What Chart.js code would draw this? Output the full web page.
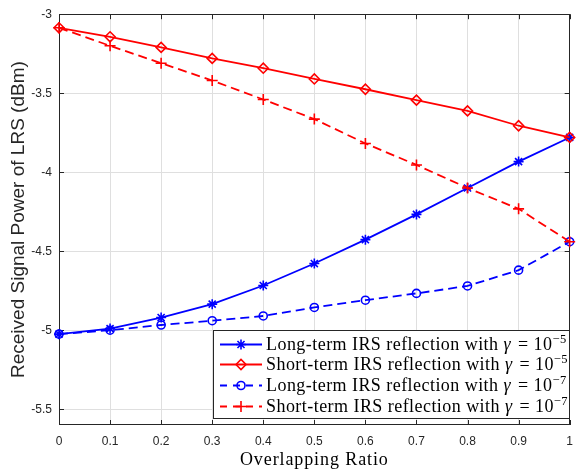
<!DOCTYPE html>
<html>
<head>
<meta charset="utf-8">
<script src="https://cdn.jsdelivr.net/npm/chart.js"></script>
<style>
  body { margin: 0; background: #fff; }
  #wrap { width: 582px; height: 470px; }
</style>
</head>
<body>
<div id="wrap"><canvas id="lrsChart" width="582" height="470"></canvas></div>
<script>
// values
var overlapRatio = [0, 0.1, 0.2, 0.3, 0.4, 0.5, 0.6, 0.7, 0.8, 0.9, 1];
var longTermG5 = [-5.025, -4.99, -4.92, -4.835, -4.717, -4.578, -4.427, -4.267, -4.10, -3.933, -3.78];
var shortTermG5 = [-3.086, -3.143, -3.21, -3.28, -3.342, -3.41, -3.475, -3.544, -3.612, -3.706, -3.78];
var longTermG7 = [-5.025, -5.0, -4.967, -4.94, -4.91, -4.856, -4.81, -4.767, -4.72, -4.62, -4.44];
var shortTermG7 = [-3.086, -3.20, -3.31, -3.42, -3.54, -3.664, -3.818, -3.954, -4.10, -4.232, -4.44];

var xTicks = [0, 0.1, 0.2, 0.3, 0.4, 0.5, 0.6, 0.7, 0.8, 0.9, 1];
var yTicks = [-5.5, -5, -4.5, -4, -3.5, -3];
var legendText = ['Long-term IRS reflection with', 'Short-term IRS reflection with',
                  'Long-term IRS reflection with', 'Short-term IRS reflection with'];
var gammaExp = ['\u22125', '\u22125', '\u22127', '\u22127'];
var xTitle = 'Overlapping Ratio';

var axisColor = '#262626';
var gridColor = '#dfdfdf';
var serif = '"Liberation Serif", "DejaVu Serif", serif';
var sans = '"Liberation Sans", Arial, sans-serif';

function pairs(ys) {
    return ys.map(function(v, i) { return {x: overlapRatio[i], y: v}; });
}

function makeSet(label, ys, color, dashed, style, radius, order) {
    return {
        label: label,
        data: pairs(ys),
        borderColor: color,
        backgroundColor: 'rgba(0,0,0,0)',
        borderWidth: 1.8,
        borderDash: dashed ? [9, 5] : [],
        pointStyle: style,
        pointRadius: radius,
        pointBorderWidth: 1.6,
        pointBorderColor: color,
        pointBackgroundColor: 'rgba(0,0,0,0)',
        fill: false,
        tension: 0,
        clip: false,
        order: order
    };
}

var datasets = [
    makeSet(legendText[0], longTermG5, '#0000ff', false, 'star', 5, 4),
    makeSet(legendText[1], shortTermG5, '#ff0000', false, 'rectRot', 5, 3),
    makeSet(legendText[2], longTermG7, '#0000ff', true, 'circle', 4, 2),
    makeSet(legendText[3], shortTermG7, '#ff0000', true, 'cross', 5.5, 1)
];

var boxPlugin = {
    id: 'matlabBox',
    beforeDatasetsDraw: function(chart) {
        var ctx = chart.ctx, a = chart.chartArea;
        var xs = chart.scales.x, ys = chart.scales.y;
        ctx.save();
        ctx.strokeStyle = axisColor;
        ctx.lineWidth = 1;
        ctx.beginPath();
        xTicks.forEach(function(v) {
            var px = Math.round(xs.getPixelForValue(v)) + 0.5;
            ctx.moveTo(px, a.bottom); ctx.lineTo(px, a.bottom - 5);
            ctx.moveTo(px, a.top); ctx.lineTo(px, a.top + 5);
        });
        yTicks.forEach(function(v) {
            var py = Math.round(ys.getPixelForValue(v)) + 0.5;
            ctx.moveTo(a.left, py); ctx.lineTo(a.left + 5, py);
            ctx.moveTo(a.right, py); ctx.lineTo(a.right - 5, py);
        });
        ctx.stroke();
        ctx.strokeRect(Math.round(a.left) + 0.5, Math.round(a.top) + 0.5,
                       Math.round(a.width) - 1, Math.round(a.height) - 1);
        ctx.restore();
    }
};

// serif text is spaced out a little to get closer to the LaTeX font widths
var legendPlugin = {
    id: 'matlabLegend',
    afterDraw: function(chart) {
        var ctx = chart.ctx, a = chart.chartArea;
        var fontSize = 18, supSize = 12.5, rowH = 20.7;
        ctx.save();
        ctx.letterSpacing = '0.9px';
        ctx.fillStyle = '#000';
        ctx.font = fontSize + 'px ' + serif;
        ctx.textAlign = 'center';
        ctx.textBaseline = 'alphabetic';
        ctx.fillText(xTitle, (a.left + a.right) / 2, 465);

        ctx.textAlign = 'left';
        ctx.letterSpacing = '0.45px';
        var sample = 42;
        var left = 213, top = Math.round(a.bottom) - 6 - (rowH * 4 + 6);
        var boxW = Math.round(a.right) - left, boxH = rowH * 4 + 6;
        ctx.fillStyle = '#fff';
        ctx.fillRect(left, top, boxW, boxH);
        ctx.strokeStyle = axisColor;
        ctx.lineWidth = 1;
        ctx.strokeRect(left + 0.5, Math.round(top) + 0.5, boxW - 1, Math.round(boxH) - 1);

        chart.data.datasets.forEach(function(ds, i) {
            var cy = Math.round(top + 3 + rowH * (i + 0.5)) + 0.5;
            var x0 = left + 7;
            ctx.save();
            ctx.strokeStyle = ds.borderColor;
            ctx.lineWidth = ds.borderWidth;
            ctx.setLineDash(ds.borderDash.length ? [7, 6] : []);
            ctx.beginPath();
            ctx.moveTo(x0, cy); ctx.lineTo(x0 + sample, cy);
            ctx.stroke();
            ctx.setLineDash([]);
            ctx.lineWidth = ds.pointBorderWidth;
            ctx.fillStyle = 'rgba(0,0,0,0)';
            Chart.helpers.drawPoint(ctx, {pointStyle: ds.pointStyle, radius: ds.pointRadius, rotation: 0, borderWidth: ds.pointBorderWidth}, x0 + sample / 2, cy);
            ctx.restore();

            var tx = x0 + sample + 4;
            var base = cy + 5.5;
            ctx.fillStyle = '#000';
            ctx.textBaseline = 'alphabetic';
            ctx.font = fontSize + 'px ' + serif;
            var s = legendText[i] + ' ';
            ctx.fillText(s, tx, base);
            tx += ctx.measureText(s).width;
            ctx.font = 'italic ' + fontSize + 'px ' + serif;
            ctx.fillText('\u03b3', tx, base);
            tx += ctx.measureText('\u03b3').width + 2;
            ctx.font = fontSize + 'px ' + serif;
            ctx.fillText(' = 10', tx, base);
            tx += ctx.measureText(' = 10').width;
            ctx.font = supSize + 'px ' + serif;
            ctx.fillText(gammaExp[i], tx, base - 7.5);
        });
        ctx.restore();
    }
};

var ctx = document.getElementById('lrsChart').getContext('2d');
var lrsChart = new Chart(ctx, {
    type: 'line',
    data: { datasets: datasets },
    options: {
        responsive: false,
        animation: false,
        events: [],
        layout: { padding: { top: 13, right: 2, left: 0, bottom: 0 } },
        plugins: { legend: { display: false }, tooltip: { enabled: false } },
        scales: {
            x: {
                type: 'linear',
                min: 0,
                max: 1,
                afterBuildTicks: function(scale) {
                    scale.ticks = xTicks.map(function(v) { return {value: v}; });
                },
                afterFit: function(scale) { scale.height = 45; },
                grid: { color: gridColor, drawTicks: false, lineWidth: 1 },
                border: { display: false },
                ticks: {
                    autoSkip: false,
                    maxRotation: 0,
                    padding: 9,
                    color: axisColor,
                    font: { family: sans, size: 12 },
                    callback: function(v) { return String(v); }
                }
            },
            y: {
                type: 'linear',
                min: -5.6,
                max: -3,
                afterBuildTicks: function(scale) {
                    scale.ticks = yTicks.map(function(v) { return {value: v}; });
                },
                afterFit: function(scale) { scale.width = 59; },
                grid: { color: gridColor, drawTicks: false, lineWidth: 1 },
                border: { display: false },
                ticks: {
                    padding: 7,
                    color: axisColor,
                    font: { family: sans, size: 12 },
                    callback: function(v) { return String(v); }
                },
                title: {
                    display: true,
                    text: 'Received Signal Power of LRS (dBm)',
                    color: axisColor,
                    font: { family: sans, size: 19 },
                    padding: { top: 7, bottom: 0 }
                }
            }
        }
    },
    plugins: [boxPlugin, legendPlugin]
});
</script>
</body>
</html>
